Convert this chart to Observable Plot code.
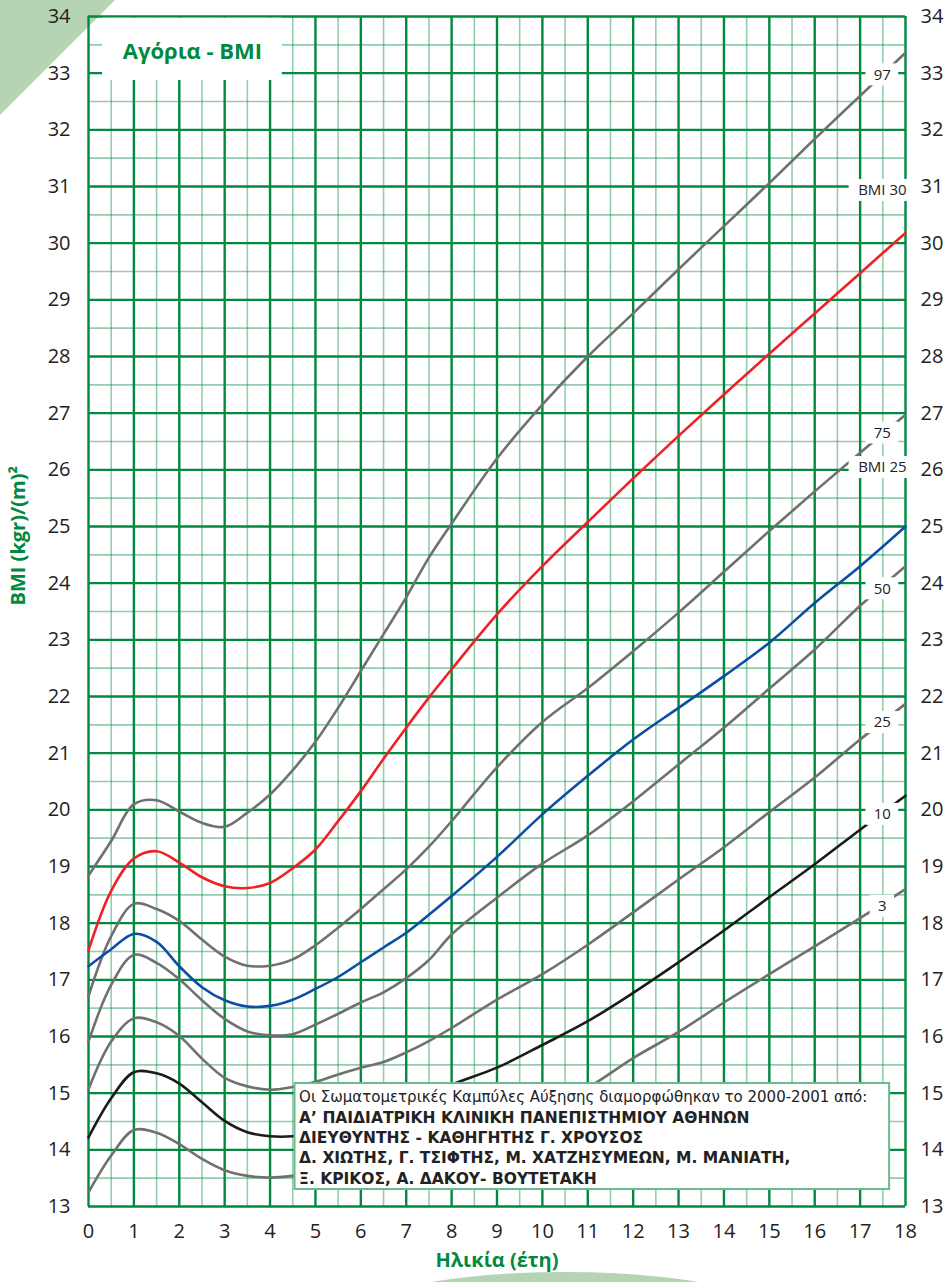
<!DOCTYPE html>
<html><head><meta charset="utf-8">
<script src="https://cdn.jsdelivr.net/npm/d3@7"></script>
<script src="https://cdn.jsdelivr.net/npm/@observablehq/plot@0.6"></script>
<style>
body{margin:0;background:#fff;}
#wrap{position:relative;width:948px;height:1282px;overflow:hidden;background:#fff;}
.tri{position:absolute;left:0;top:0;width:115px;height:115px;background:#b4d4b4;clip-path:polygon(0 0,100% 0,0 100%);}
.oval{position:absolute;left:305px;top:1272px;width:520px;height:140px;border-radius:50%;background:#b4d4b4;}
#chart{position:absolute;left:0;top:0;}
</style></head>
<body><div id="wrap"><div class="tri"></div><div class="oval"></div><div id="chart"></div></div>
<script>
// ---- data ----
const ages = [0,0.5,1,1.5,2,2.5,3,3.5,4,4.5,5,5.5,6,6.5,7,7.5,8,9,10,11,12,13,14,15,16,17,18];
const p97   = [18.84,19.45,20.10,20.17,19.97,19.77,19.70,19.95,20.27,20.70,21.20,21.80,22.45,23.10,23.75,24.45,25.05,26.20,27.15,28.00,28.76,29.54,30.30,31.06,31.84,32.60,33.36];
const bmi30 = [17.52,18.57,19.14,19.27,19.07,18.81,18.65,18.62,18.71,18.97,19.30,19.80,20.33,20.90,21.45,21.98,22.48,23.45,24.30,25.08,25.85,26.60,27.33,28.05,28.76,29.47,30.18];
const p75   = [16.71,17.77,18.34,18.25,18.04,17.71,17.41,17.25,17.25,17.36,17.61,17.92,18.25,18.60,18.95,19.35,19.80,20.75,21.55,22.15,22.80,23.48,24.20,24.92,25.62,26.30,26.97];
const bmi25 = [17.24,17.54,17.81,17.67,17.24,16.87,16.64,16.53,16.54,16.65,16.84,17.05,17.31,17.57,17.83,18.15,18.48,19.17,19.92,20.60,21.24,21.80,22.36,22.95,23.65,24.30,25.00];
const p50   = [15.91,16.91,17.44,17.30,17.01,16.64,16.31,16.09,16.02,16.04,16.21,16.40,16.60,16.78,17.03,17.35,17.80,18.45,19.05,19.55,20.15,20.80,21.45,22.14,22.83,23.60,24.30];
const p25   = [15.07,15.91,16.32,16.25,16.01,15.61,15.27,15.12,15.06,15.11,15.20,15.33,15.45,15.55,15.72,15.92,16.15,16.65,17.10,17.62,18.19,18.77,19.34,19.96,20.57,21.24,21.87];
const p10   = [14.22,14.91,15.37,15.35,15.17,14.84,14.51,14.31,14.24,14.24,14.30,14.40,14.50,14.65,14.80,14.95,15.15,15.45,15.85,16.27,16.77,17.31,17.87,18.46,19.04,19.65,20.25];
const p3    = [13.25,13.90,14.35,14.30,14.10,13.84,13.64,13.54,13.51,13.54,13.60,13.67,13.75,13.85,13.95,14.05,14.20,14.45,14.75,15.10,15.62,16.08,16.60,17.10,17.59,18.09,18.60];

const curveLabels = ["97","BMI 30","75","BMI 25","50","25","10","3"];
const labelBMI    = [32.97,30.93,26.65,26.04,23.90,21.54,19.92,18.30];

const xTicks = d3.range(0,19);
const yTicks = d3.range(13,35);

const titleText = "Αγόρια - BMI";
const xTitle = "Ηλικία (έτη)";
const yTitle = "BMI (kgr)/(m)²";
const noteFirst = "Οι Σωματομετρικές Καμπύλες Αύξησης διαμορφώθηκαν το 2000-2001 από:";
const noteBold = [
  "Α’ ΠΑΙΔΙΑΤΡΙΚΗ ΚΛΙΝΙΚΗ ΠΑΝΕΠΙΣΤΗΜΙΟΥ ΑΘΗΝΩΝ",
  "ΔΙΕΥΘΥΝΤΗΣ - ΚΑΘΗΓΗΤΗΣ Γ. ΧΡΟΥΣΟΣ",
  "Δ. ΧΙΩΤΗΣ, Γ. ΤΣΙΦΤΗΣ, Μ. ΧΑΤΖΗΣΥΜΕΩΝ, Μ. ΜΑΝΙΑΤΗ,",
  "Ξ. ΚΡΙΚΟΣ, Α. ΔΑΚΟΥ- ΒΟΥΤΕΤΑΚΗ"
];

// ---- build ----
const GREEN = "#00893f";
const series = [
  {v:p97, c:"#707070"}, {v:bmi30, c:"#ee2226"}, {v:p75, c:"#707070"}, {v:bmi25, c:"#0b4ea2"},
  {v:p50, c:"#707070"}, {v:p25, c:"#707070"}, {v:p10, c:"#1b1b1b"}, {v:p3, c:"#707070"}
];
const W = 948, H = 1282, mL = 88, mR = 43, mT = 16, mB = 76;
const pxX = (W - mL - mR) / 18, pxY = (H - mT - mB) / 21;
const LAGE = 17.49;
const labels = curveLabels.map((t,i) => {
  const hw = (4.2*t.length + 8) / pxX;
  const hh = 11 / pxY;
  return {t, y: labelBMI[i], x1: LAGE - hw, x2: LAGE + hw, y1: labelBMI[i] - hh, y2: labelBMI[i] + hh};
});

const lineMarks = series.map(s => Plot.line(ages.map((a,i)=>({a, b:s.v[i]})),
  {x:"a", y:"b", stroke:s.c, strokeWidth:2.6, curve:"catmull-rom"}));

const box = {x1:4.55, x2:17.65, y1:13.3, y2:15.17};
const fam = "'Open Sans', 'Noto Sans', sans-serif";
const capFam = "'DejaVu Sans', sans-serif";

const chart = Plot.plot({
  width: W, height: H,
  marginLeft: mL, marginRight: mR, marginTop: mT, marginBottom: mB,
  x: {domain:[0,18]},
  y: {domain:[13,34]},
  style: {background:"transparent", fontFamily: fam, color:"#222"},
  marks: [
    Plot.gridX(d3.range(0.5,18,1), {stroke:GREEN, strokeOpacity:0.42, strokeWidth:1.6}),
    Plot.gridY(d3.range(13.5,34,1), {stroke:GREEN, strokeOpacity:0.42, strokeWidth:1.6}),
    Plot.gridX(xTicks, {stroke:GREEN, strokeOpacity:1, strokeWidth:2.4}),
    Plot.gridY(yTicks, {stroke:GREEN, strokeOpacity:1, strokeWidth:2.4}),
    ...lineMarks,
    Plot.rect(labels, {x1:"x1", x2:"x2", y1:"y1", y2:"y2", fill:"white"}),
    Plot.text(labels, {x: LAGE, y:"y", text:"t", fontSize:15, fill:"#222"}),
    // title box
    Plot.rect([0], {x1:0.31, x2:4.27, y1:32.87, y2:33.97, fill:"white"}),
    Plot.text([titleText], {x:2.29, y:33.37, text:d=>d, fontSize:22, fontWeight:"bold", fill:GREEN}),
    // caption box
    Plot.rect([box], {x1:"x1", x2:"x2", y1:"y1", y2:"y2", fill:"white", stroke:"#6cb98a", strokeWidth:2}),
    Plot.text([noteFirst], {x:4.64, y:14.93, text:d=>d, textAnchor:"start", fontSize:15, fontFamily:capFam, fill:"#222"}),
    Plot.text(noteBold, {x:4.64, y:(d,i)=>14.57 - 0.36*i, text:d=>d, textAnchor:"start", fontSize:15.5, fontFamily:capFam, fontWeight:"bold", fill:"#222"}),
    // axes
    Plot.axisY(yTicks, {anchor:"left", tickSize:0, tickPadding:18, fontSize:20, tickFormat:d=>d, label:null}),
    Plot.axisY(yTicks, {anchor:"right", tickSize:0, tickPadding:15, fontSize:20, tickFormat:d=>d, label:null}),
    Plot.axisX(xTicks, {anchor:"bottom", tickSize:0, tickPadding:17, fontSize:20, tickFormat:d=>d, label:null}),
    Plot.text([yTitle], {frameAnchor:"left", dx:-70, dy:-6, rotate:-90, text:d=>d, fontSize:20, fontWeight:"bold", fill:GREEN}),
    Plot.text([xTitle], {frameAnchor:"bottom", dy:60, text:d=>d, fontSize:20, fontWeight:"bold", fill:GREEN})
  ]
});
document.getElementById("chart").appendChild(chart);
</script>
</body></html>
